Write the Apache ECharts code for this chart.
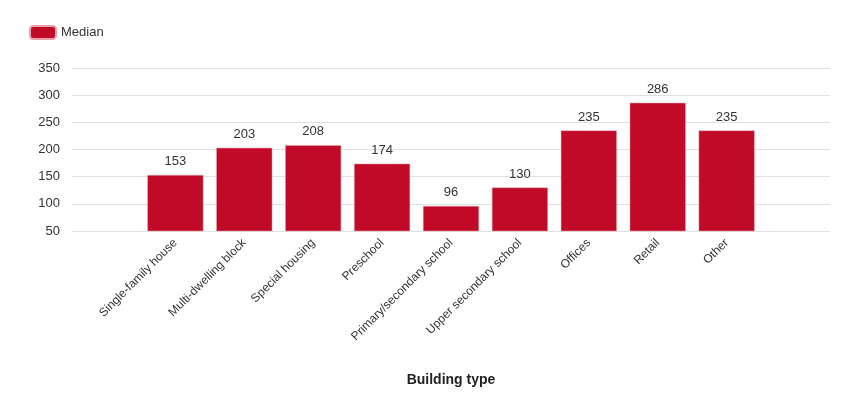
<!DOCTYPE html><html><head><meta charset="utf-8"><script src="https://cdn.jsdelivr.net/npm/echarts@6/dist/echarts.min.js"></script></head><body style="margin:0"><div id="c" style="width:846px;height:406px"></div><script>
const categories=['','Single-family house','Multi-dwelling block','Special housing','Preschool','Primary/secondary school','Upper secondary school','Offices','Retail','Other',''];
const medianValues=['-',153,203,208,174,96,130,235,286,235,'-'];
const yTicks={min:50,max:350,interval:50};
const ch=echarts.init(document.getElementById('c'));
ch.setOption({
 animation:false,
 legend:{left:24,top:20,itemWidth:26,itemHeight:13,textStyle:{fontFamily:'Arial, Liberation Sans',fontSize:13,color:'#333'},data:['Median']},
 grid:{left:72,right:16,top:68,bottom:175},
 xAxis:{type:'category',data:categories,axisTick:{show:false},axisLine:{show:false},
  axisLabel:{rotate:45,interval:0,fontFamily:'Arial, Liberation Sans',fontSize:12,color:'#333',margin:10},
  name:'Building type',nameLocation:'middle',nameGap:142,nameTextStyle:{fontWeight:'bold',fontSize:14,color:'#222',fontFamily:'Arial, Liberation Sans'}},
 yAxis:{type:'value',min:yTicks.min,max:yTicks.max,interval:yTicks.interval,
  axisLabel:{fontFamily:'Arial, Liberation Sans',fontSize:13,color:'#333',margin:12},
  splitLine:{lineStyle:{color:'#e0e0e0'}}},
 series:[{name:'Median',type:'bar',data:medianValues,barWidth:56,
  itemStyle:{color:'#c10a27',borderColor:'#e8a0aa',borderWidth:0.5},
  label:{show:true,position:'top',distance:7,fontFamily:'Arial, Liberation Sans',fontSize:13,color:'#333'}}]
});
</script></body></html>
